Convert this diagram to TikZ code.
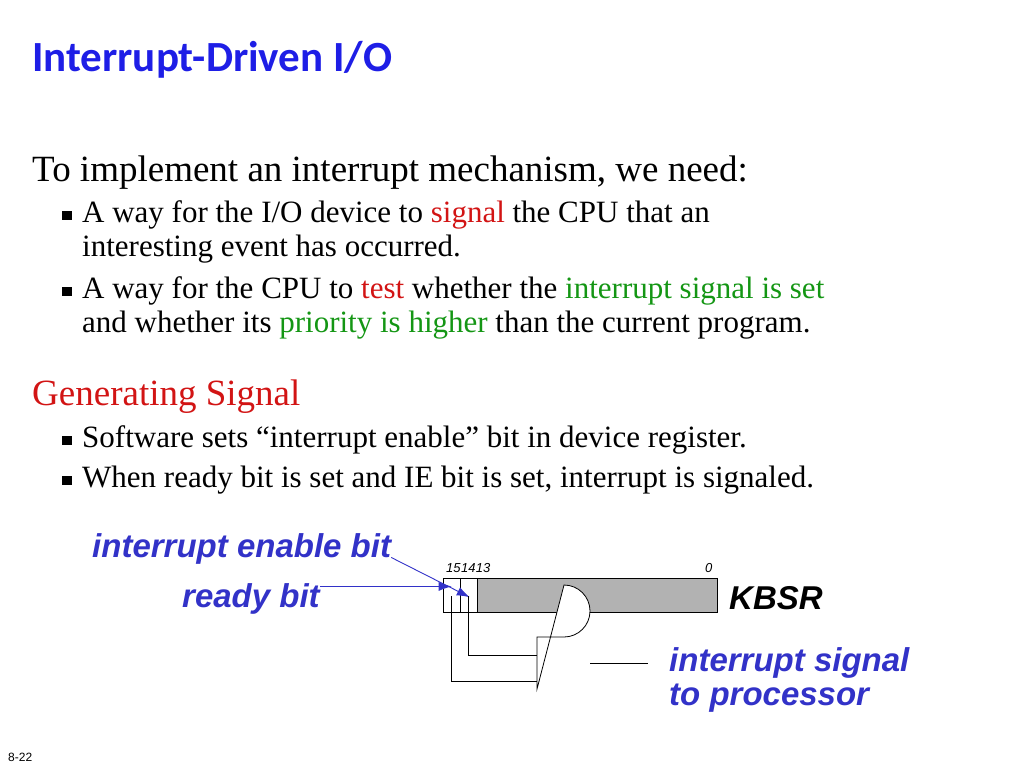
\documentclass[tikz,border=0pt]{standalone}
\usepackage{fontspec}
\setmainfont{Liberation Serif}
\setsansfont{Liberation Sans}
\newfontfamily\titlefont{Carlito}
\usetikzlibrary{arrows.meta}
\definecolor{titleblue}{RGB}{30,30,230}
\definecolor{labelblue}{RGB}{50,50,200}
\definecolor{sigred}{RGB}{210,20,20}
\definecolor{siggreen}{RGB}{20,150,20}
\tikzset{
  txt/.style={anchor=base west, inner sep=0pt},
  lbl/.style={anchor=base west, inner sep=0pt, text=labelblue, font=\sffamily\bfseries\itshape\fontsize{33}{38}\selectfont},
  bitnum/.style={anchor=base west, inner sep=0pt, font=\sffamily\itshape\fontsize{13}{14}\selectfont},
  cell/.style={draw, fill=white, minimum width=17pt, minimum height=34pt, inner sep=0pt, anchor=north west},
  wire/.style={draw, line width=0.8pt},
  ptr/.style={draw, labelblue, line width=0.9pt, -{Latex[length=13pt,width=9pt]}}
}
\newcommand{\bul}{\makebox[20pt][l]{\raisebox{0.15ex}{\rule{0.3em}{0.3em}}}}
\begin{document}
\begin{tikzpicture}[x=1pt,y=-1pt]
\useasboundingbox (0,0) rectangle (1024,768);
\node[txt, font=\titlefont\bfseries\fontsize{43}{48}\selectfont, text=titleblue] (title) at (32,71) {Interrupt-Driven I/O};
\node[txt, font=\fontsize{37}{40}\selectfont] (intro) at (32,181) {To implement an interrupt mechanism, we need:};
\begin{scope}[font=\fontsize{31}{34}\selectfont]
\node[txt] (b1) at (62,222) {\bul A way for the I/O device to \textcolor{sigred}{signal} the CPU that an};
\node[txt] (b1b) at (82,256) {interesting event has occurred.};
\node[txt] (b2) at (62,298) {\bul A way for the CPU to \textcolor{sigred}{test} whether the \textcolor{siggreen}{interrupt signal is set}};
\node[txt] (b2b) at (82,332) {and whether its \textcolor{siggreen}{priority is higher} than the current program.};
\node[txt] (b3) at (62,447) {\bul Software sets \textquotedblleft interrupt enable\textquotedblright\ bit in device register.};
\node[txt] (b4) at (62,487) {\bul When ready bit is set and IE bit is set, interrupt is signaled.};
\end{scope}
\node[txt, font=\fontsize{37}{40}\selectfont, text=sigred] (gen) at (32,405) {Generating Signal};

% register
\node[draw, fill=gray!60, minimum width=240pt, minimum height=34pt, inner sep=0pt, anchor=north west] (rest) at (477,578) {};
\node[cell] (b15) at (443,578) {};
\node[cell] (b14) at (460,578) {};
\node[bitnum] (n15) at (446,572) {15};
\node[bitnum, anchor=base west] (n14) at (n15.base east) {14};
\node[bitnum, anchor=base west] (n13) at (n14.base east) {13};
\node[bitnum] (n0) at (705,572) {0};
\node[anchor=base west, inner sep=0pt, font=\sffamily\bfseries\itshape\fontsize{33}{38}\selectfont] (kbsr) at (729,609) {KBSR};

% labels
\node[lbl] (ie) at (92,557) {interrupt enable bit};
\node[lbl] (rdy) at (182,607) {ready bit};
\node[lbl] (isig) at (669,671) {interrupt signal};
\node[lbl] (isig2) at (669,705) {to processor};
\draw[ptr] (ie.east) ++(0,9) -- ([xshift=1pt,yshift=-2pt]b14.center);
\draw[ptr] (rdy.east) ++(0,-12) coordinate (r) -- (r -| b15.center);

% gate
\draw[wire, fill=white] (537,637) coordinate (g1) -- (564,637) arc[start angle=90, end angle=-90, radius=26] -- (537,689) -- cycle;
\coordinate (in1) at (537,655);
\coordinate (in2) at (537,681);
\coordinate (gout) at (590,663);
\draw[wire] (b14.south) ++(0,-16) coordinate (p) -- (p |- in1) -- (in1);
\draw[wire] (b15.south) ++(0,-16) coordinate (q) -- (q |- in2) -- (in2);
\coordinate (outend) at (648,663);
\draw[wire] (gout) -- (outend);
\node[anchor=base west, inner sep=0pt, font=\sffamily\fontsize{12}{14}\selectfont] (pg) at (8,761) {8-22};
\end{tikzpicture}
\end{document}
